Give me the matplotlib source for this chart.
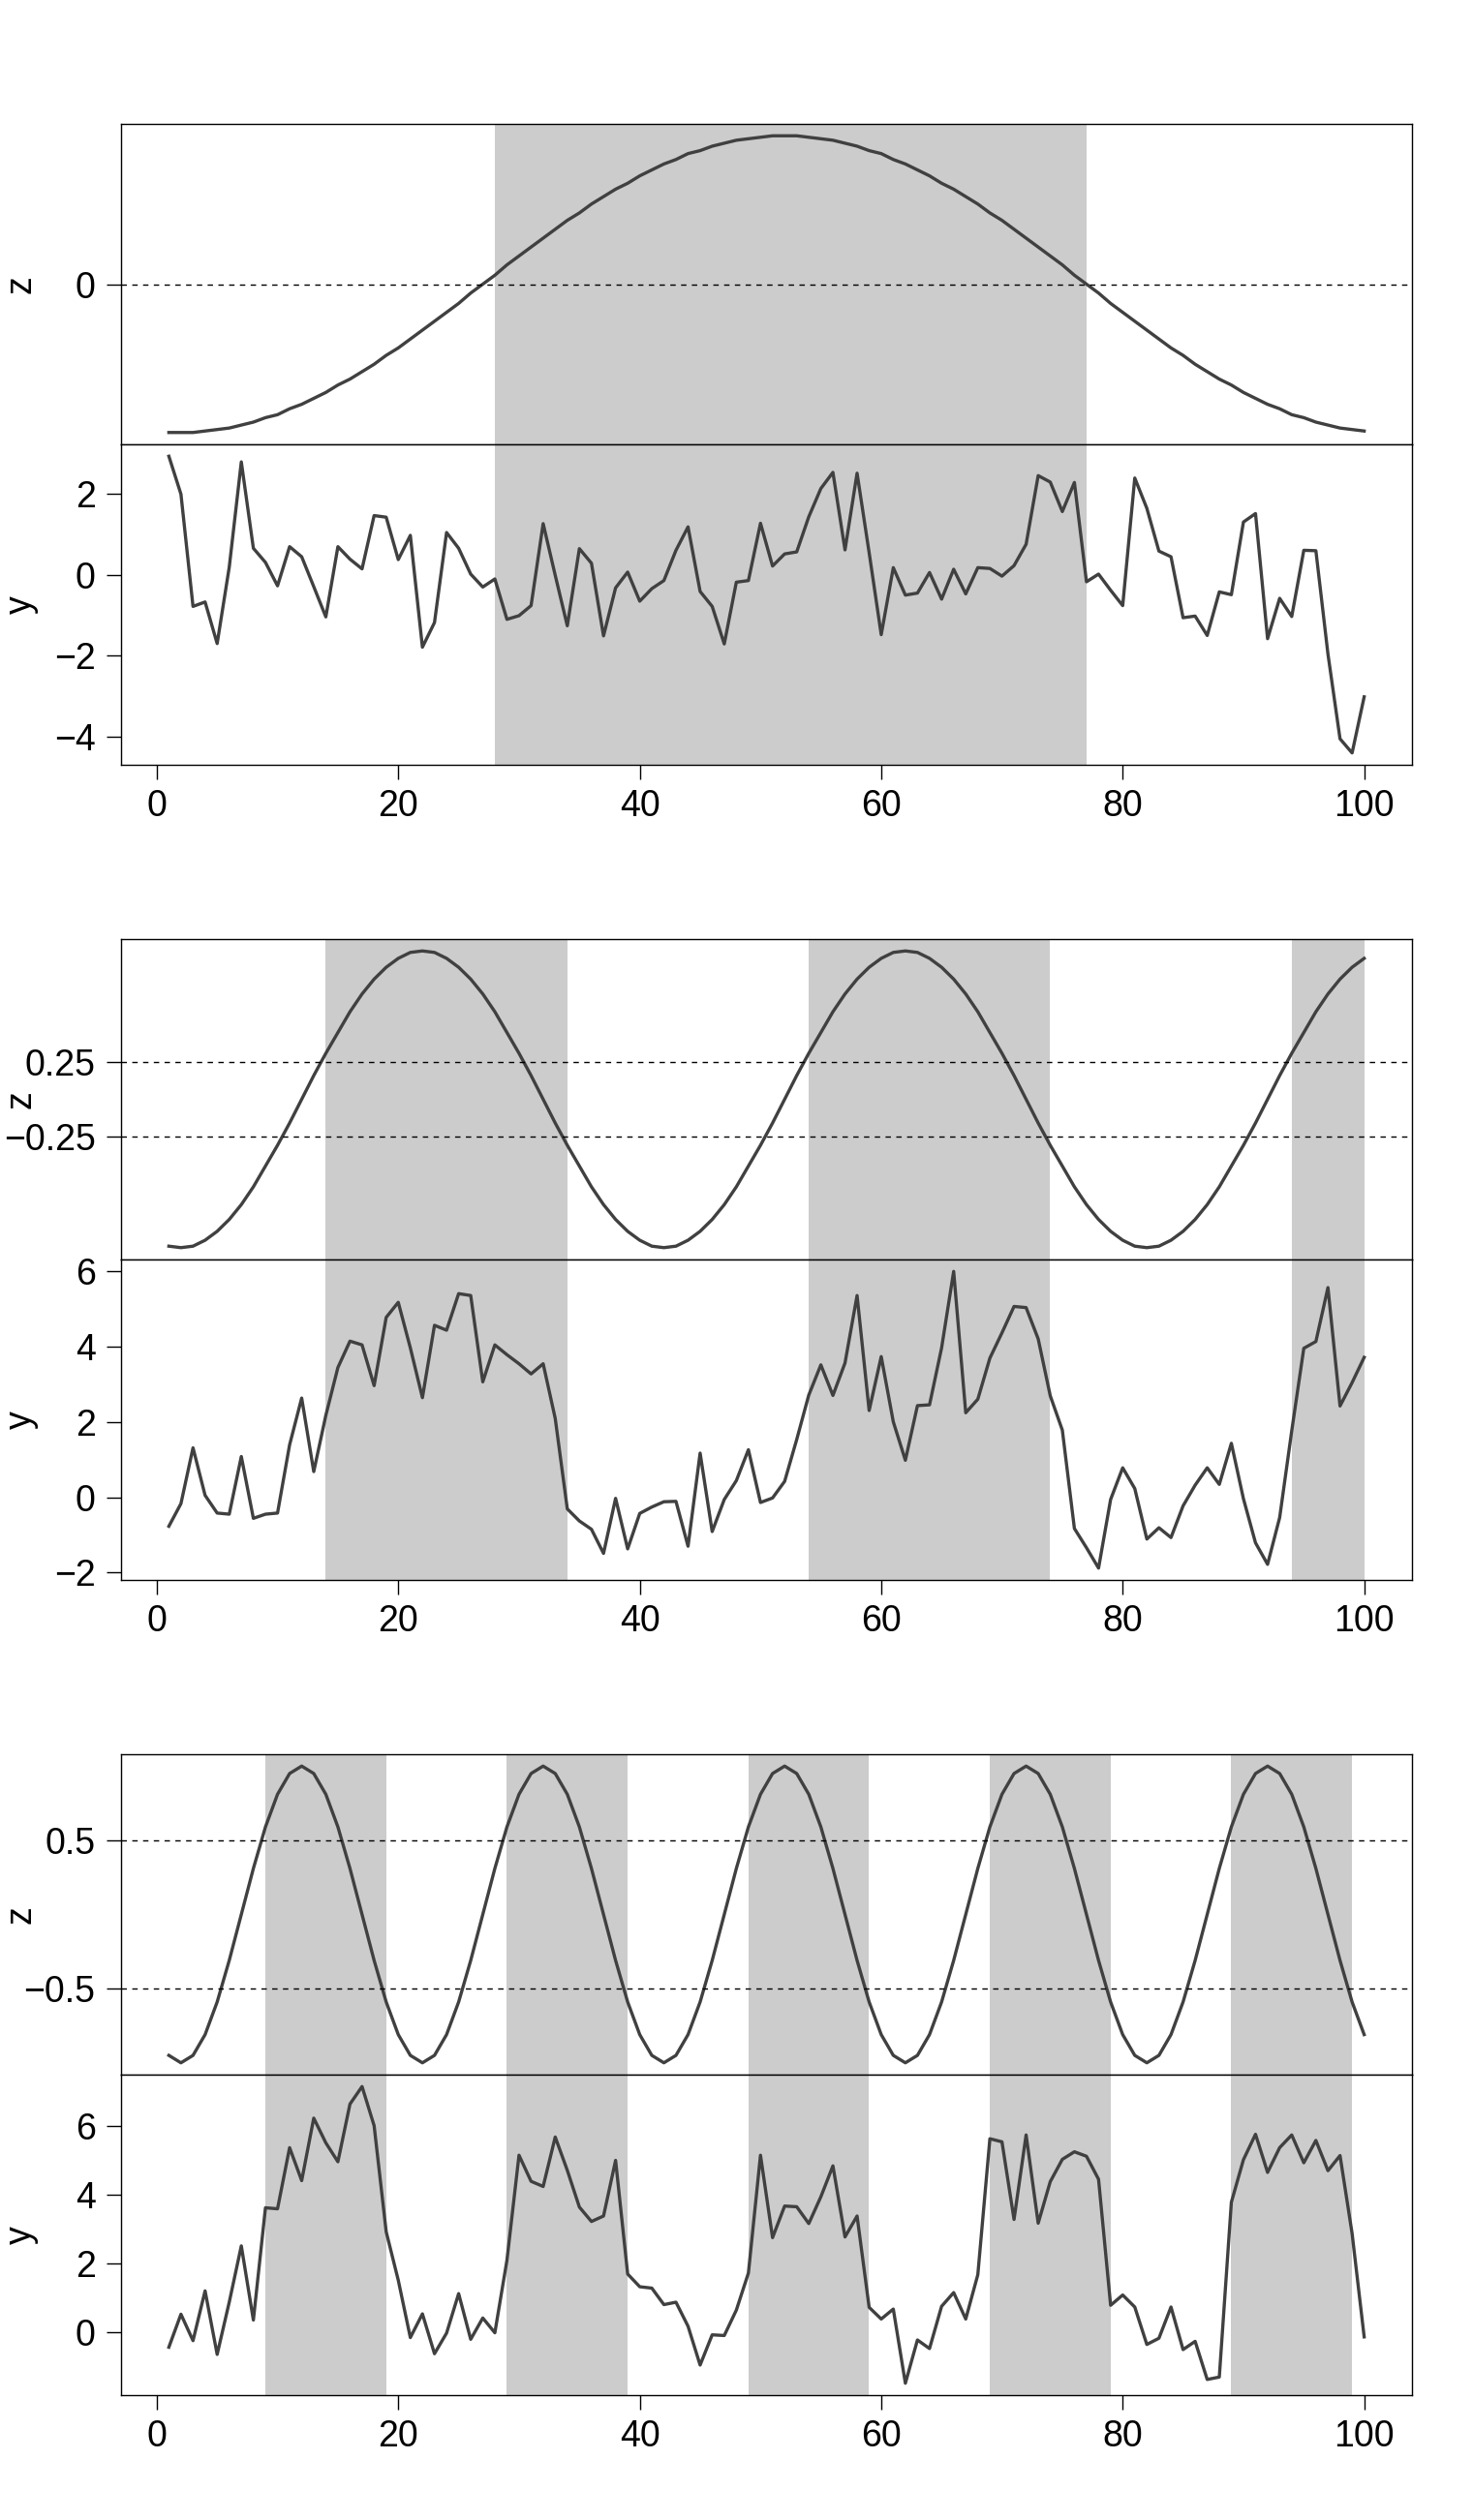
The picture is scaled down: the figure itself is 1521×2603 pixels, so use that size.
import matplotlib.pyplot as plt

plt.rcParams['font.family'] = ['Liberation Sans', 'DejaVu Sans']

x = list(range(1, 101))

# panel 1: slow cycle
z1 = [-1.00, -1.00, -1.00, -0.99, -0.98, -0.97, -0.95, -0.93, -0.90, -0.88,
      -0.84, -0.81, -0.77, -0.73, -0.68, -0.64, -0.59, -0.54, -0.48, -0.43,
      -0.37, -0.31, -0.25, -0.19, -0.13, -0.06, 0.00, 0.06, 0.13, 0.19,
      0.25, 0.31, 0.37, 0.43, 0.48, 0.54, 0.59, 0.64, 0.68, 0.73,
      0.77, 0.81, 0.84, 0.88, 0.90, 0.93, 0.95, 0.97, 0.98, 0.99,
      1.00, 1.00, 1.00, 0.99, 0.98, 0.97, 0.95, 0.93, 0.90, 0.88,
      0.84, 0.81, 0.77, 0.73, 0.68, 0.64, 0.59, 0.54, 0.48, 0.43,
      0.37, 0.31, 0.25, 0.19, 0.13, 0.06, 0.00, -0.06, -0.13, -0.19,
      -0.25, -0.31, -0.37, -0.43, -0.48, -0.54, -0.59, -0.64, -0.68, -0.73,
      -0.77, -0.81, -0.84, -0.88, -0.90, -0.93, -0.95, -0.97, -0.98, -0.99]
y1 = [2.94, 2.00, -0.78, -0.67, -1.70, 0.19, 2.80, 0.66, 0.31, -0.27,
      0.70, 0.45, -0.29, -1.04, 0.70, 0.39, 0.15, 1.47, 1.43, 0.38,
      0.98, -1.79, -1.18, 1.05, 0.66, 0.02, -0.30, -0.10, -1.10, -1.01,
      -0.76, 1.27, -0.01, -1.26, 0.65, 0.29, -1.51, -0.32, 0.07, -0.65,
      -0.34, -0.14, 0.61, 1.19, -0.41, -0.78, -1.71, -0.18, -0.14, 1.28,
      0.22, 0.52, 0.57, 1.44, 2.14, 2.54, 0.62, 2.52, 0.55, -1.48,
      0.18, -0.50, -0.45, 0.06, -0.60, 0.14, -0.47, 0.18, 0.16, -0.03,
      0.23, 0.76, 2.46, 2.30, 1.57, 2.29, -0.17, 0.02, -0.38, -0.76,
      2.40, 1.65, 0.59, 0.45, -1.06, -1.02, -1.50, -0.42, -0.49, 1.31,
      1.52, -1.58, -0.58, -1.03, 0.61, 0.60, -1.96, -4.06, -4.41, -3.02]
shade1 = [(28, 77)]

# panel 2: period 40
z2 = [-0.99, -1.00, -0.99, -0.95, -0.89, -0.81, -0.71, -0.59, -0.45, -0.31,
      -0.16, 0.00, 0.16, 0.31, 0.45, 0.59, 0.71, 0.81, 0.89, 0.95,
      0.99, 1.00, 0.99, 0.95, 0.89, 0.81, 0.71, 0.59, 0.45, 0.31,
      0.16, 0.00, -0.16, -0.31, -0.45, -0.59, -0.71, -0.81, -0.89, -0.95,
      -0.99, -1.00, -0.99, -0.95, -0.89, -0.81, -0.71, -0.59, -0.45, -0.31,
      -0.16, 0.00, 0.16, 0.31, 0.45, 0.59, 0.71, 0.81, 0.89, 0.95,
      0.99, 1.00, 0.99, 0.95, 0.89, 0.81, 0.71, 0.59, 0.45, 0.31,
      0.16, 0.00, -0.16, -0.31, -0.45, -0.59, -0.71, -0.81, -0.89, -0.95,
      -0.99, -1.00, -0.99, -0.95, -0.89, -0.81, -0.71, -0.59, -0.45, -0.31,
      -0.16, 0.00, 0.16, 0.31, 0.45, 0.59, 0.71, 0.81, 0.89, 0.95]
y2 = [-0.77, -0.17, 1.31, 0.05, -0.42, -0.45, 1.08, -0.56, -0.45, -0.42,
      1.39, 2.63, 0.68, 2.17, 3.44, 4.14, 4.04, 2.96, 4.77, 5.17,
      3.96, 2.64, 4.56, 4.43, 5.40, 5.35, 3.06, 4.04, 3.78, 3.54,
      3.27, 3.54, 2.09, -0.31, -0.63, -0.85, -1.49, -0.03, -1.37, -0.43,
      -0.26, -0.12, -0.11, -1.30, 1.17, -0.91, -0.06, 0.44, 1.26, -0.14,
      -0.02, 0.42, 1.53, 2.71, 3.51, 2.70, 3.56, 5.35, 2.30, 3.73,
      2.00, 0.98, 2.43, 2.45, 3.96, 5.99, 2.24, 2.60, 3.69, 4.36,
      5.06, 5.03, 4.20, 2.69, 1.78, -0.83, -1.34, -1.88, -0.06, 0.78,
      0.23, -1.11, -0.81, -1.07, -0.23, 0.32, 0.78, 0.34, 1.43, -0.04,
      -1.21, -1.78, -0.54, 1.76, 3.95, 4.13, 5.56, 2.42, 3.04, 3.71]
shade2 = [(14, 34), (54, 74), (94, 100)]

# panel 3: period 20
z3 = [-0.95, -1.00, -0.95, -0.81, -0.59, -0.31, 0.00, 0.31, 0.59, 0.81,
      0.95, 1.00, 0.95, 0.81, 0.59, 0.31, 0.00, -0.31, -0.59, -0.81,
      -0.95, -1.00, -0.95, -0.81, -0.59, -0.31, 0.00, 0.31, 0.59, 0.81,
      0.95, 1.00, 0.95, 0.81, 0.59, 0.31, 0.00, -0.31, -0.59, -0.81,
      -0.95, -1.00, -0.95, -0.81, -0.59, -0.31, 0.00, 0.31, 0.59, 0.81,
      0.95, 1.00, 0.95, 0.81, 0.59, 0.31, 0.00, -0.31, -0.59, -0.81,
      -0.95, -1.00, -0.95, -0.81, -0.59, -0.31, 0.00, 0.31, 0.59, 0.81,
      0.95, 1.00, 0.95, 0.81, 0.59, 0.31, 0.00, -0.31, -0.59, -0.81,
      -0.95, -1.00, -0.95, -0.81, -0.59, -0.31, 0.00, 0.31, 0.59, 0.81,
      0.95, 1.00, 0.95, 0.81, 0.59, 0.31, 0.00, -0.31, -0.59, -0.81]
y3 = [-0.45, 0.51, -0.26, 1.19, -0.66, 0.86, 2.50, 0.34, 3.61, 3.58,
      5.36, 4.40, 6.22, 5.50, 4.95, 6.63, 7.14, 6.00, 2.91, 1.50,
      -0.17, 0.52, -0.64, -0.04, 1.11, -0.22, 0.40, -0.03, 2.08, 5.14,
      4.38, 4.23, 5.67, 4.70, 3.63, 3.21, 3.37, 4.99, 1.68, 1.31,
      1.27, 0.79, 0.86, 0.16, -0.97, -0.09, -0.11, 0.63, 1.71, 5.14,
      2.74, 3.66, 3.64, 3.15, 3.93, 4.83, 2.76, 3.37, 0.71, 0.37,
      0.66, -1.50, -0.24, -0.49, 0.74, 1.14, 0.37, 1.66, 5.62, 5.53,
      3.27, 5.73, 3.16, 4.37, 5.02, 5.24, 5.11, 4.44, 0.77, 1.07,
      0.72, -0.37, -0.19, 0.72, -0.52, -0.28, -1.39, -1.32, 3.77, 5.01,
      5.75, 4.64, 5.36, 5.73, 4.92, 5.57, 4.69, 5.13, 2.86, -0.15]
shade3 = [(9, 19), (29, 39), (49, 59), (69, 79), (89, 99)]

zlines = [[0], [-0.25, 0.25], [-0.5, 0.5]]
yticks = [[-4, -2, 0, 2], [-2, 0, 2, 4, 6], [0, 2, 4, 6]]
xticks = [0, 20, 40, 60, 80, 100]

W, H = 1521, 2603
fig = plt.figure(figsize=(W / 100, H / 100), dpi=100)


def box(top, bottom, left=125, right=1458):
    return [left / W, 1 - bottom / H, (right - left) / W, (bottom - top) / H]


def pad(v):
    lo, hi = min(v), max(v)
    r = hi - lo
    return lo - 0.04 * r, hi + 0.04 * r


panels = [(z1, y1, shade1, 128), (z2, y2, shade2, 970), (z3, y3, shade3, 1812)]

for i, (z, y, shade, top) in enumerate(panels):
    axz = fig.add_axes(box(top, top + 331))
    axy = fig.add_axes(box(top + 331, top + 662))
    for a in (axz, axy):
        for s, e in shade:
            a.axvspan(s, e, color='#cccccc', lw=0, zorder=0)
        a.set_xlim(pad(x))
        a.tick_params(direction='out', length=11, width=1, labelsize=27)
        a.tick_params(axis='y', pad=8)
        a.tick_params(axis='x', pad=7)
        for sp in a.spines.values():
            sp.set_linewidth(1)
        a.yaxis.set_label_coords(-0.064, 0.5)

    axz.plot(x, z, color='#404040', lw=2.4)
    for v in zlines[i]:
        axz.axhline(v, color='black', lw=1, ls=(0, (4, 4)))
    axz.set_ylim(pad(z))
    axz.set_yticks(zlines[i])
    axz.set_xticks([])
    axz.set_ylabel('z', fontsize=27)

    axy.plot(x, y, color='#404040', lw=2.4)
    axy.set_ylim(pad(y))
    axy.set_yticks(yticks[i])
    axy.set_xticks(xticks)
    axy.set_ylabel('y', fontsize=27)

fig.savefig('out.png', dpi=100)
